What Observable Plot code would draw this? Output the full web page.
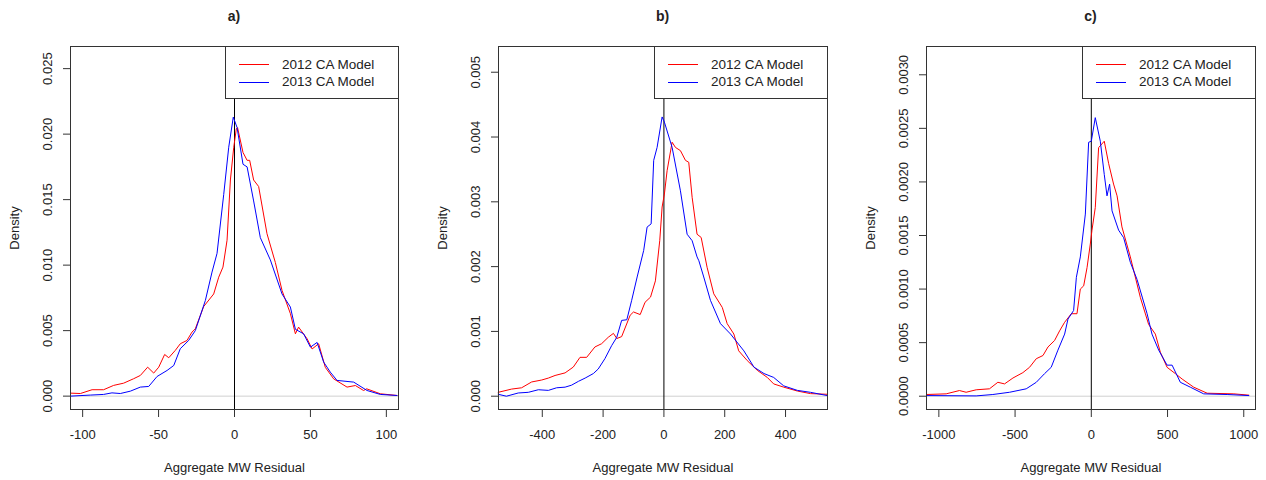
<!DOCTYPE html>
<html><head><meta charset="utf-8">
<script src="https://cdn.jsdelivr.net/npm/d3@7"></script>
<script src="https://cdn.jsdelivr.net/npm/@observablehq/plot@0.6"></script>
<style>
body{margin:0;background:#fff;font-family:"Liberation Sans",Arial,sans-serif;color:#222}
#wrap{position:relative;width:1266px;height:480px;overflow:hidden;background:#fff}
.panel{position:absolute;top:30px;width:422px;height:450px}
.title{position:absolute;top:7px;width:60px;margin-left:-30px;font-weight:bold;font-size:14px;text-align:center;line-height:18px}
.legend{position:absolute;background:#fff;border:1px solid #333;box-sizing:border-box}
.legend .row{position:absolute;left:0;height:16px;line-height:16px;font-size:13.5px;white-space:nowrap}
.legend .sw{position:absolute;left:13px;top:7.5px;width:30px;height:0;border-top:1px solid}
.legend .lab{position:absolute;left:56px;top:0}
</style></head><body><div id="wrap"></div>
<script>
const seriesNames = ["2012 CA Model", "2013 CA Model"];
const seriesColors = ["#ff0000", "#0000ff"];
const panelTitles = ["a)", "b)", "c)"];
const xLabel = "Aggregate MW Residual";
const yLabel = "Density";

// Panel a
const a2012 = [[-108,0.00023],[-101.5,0.0002],[-93.8,0.00049],[-86.2,0.00049],[-79.6,0.00082],[-73,0.00099],[-66.4,0.00133],[-62,0.00158],[-57.2,0.00221],[-53.2,0.00176],[-49.9,0.00221],[-46,0.00318],[-43.3,0.00293],[-39,0.00349],[-35.7,0.004],[-31.3,0.00425],[-28,0.00489],[-25.8,0.00514],[-20.3,0.00684],[-13.7,0.0078],[-10.4,0.00908],[-7.6,0.00985],[-4.9,0.0119],[-2.7,0.0165],[-0.5,0.019],[1.2,0.0204],[2,0.0205],[5.6,0.0186],[8.3,0.018],[10,0.018],[12.6,0.0165],[15.9,0.016],[21.4,0.0124],[26.9,0.0102],[31.3,0.00807],[36.8,0.0063],[40.1,0.00476],[42.2,0.00527],[47.8,0.00438],[51.1,0.0036],[55.4,0.004],[59.8,0.0022],[65.3,0.00132],[74.1,0.00069],[79.6,0.00081],[85,0.00043],[87,0.00056],[96,0.00018],[107,0.00005]];
const a2013 = [[-108,0],[-95,0.00008],[-86.2,0.00013],[-80.7,0.00025],[-75.2,0.0002],[-68.6,0.00038],[-62,0.00069],[-56.5,0.00074],[-51,0.0015],[-44.4,0.00196],[-40,0.00234],[-35.7,0.00362],[-30.2,0.00425],[-25.8,0.005],[-19.2,0.0073],[-14.8,0.00947],[-11.5,0.0109],[-7.1,0.0154],[-3.8,0.019],[-0.8,0.0213],[1.7,0.0205],[5.6,0.0177],[8.3,0.0175],[12.6,0.0149],[17,0.0121],[23.6,0.0104],[31.3,0.0078],[36.8,0.0068],[40.1,0.0051],[45.5,0.00476],[50,0.00374],[54.4,0.0041],[58.7,0.0026],[63.1,0.00183],[67.5,0.0012],[78.5,0.00107],[87.3,0.00043],[96,0.00013],[107,0.00005]];
const aXTicks = [-100, -50, 0, 50, 100];
const aYTicks = [0, 0.005, 0.010, 0.015, 0.020, 0.025];

// Panel b
const b2012 = [[-545,0.00006],[-501,0.00011],[-468,0.00013],[-435,0.00022],[-402,0.00025],[-380,0.00028],[-358,0.00032],[-325,0.00036],[-298,0.00045],[-276,0.0006],[-254,0.0006],[-227,0.00076],[-205,0.00081],[-183,0.00091],[-166,0.00097],[-155,0.00089],[-139,0.00092],[-111,0.00125],[-100,0.0013],[-78,0.00126],[-62,0.00145],[-44,0.00153],[-28,0.00178],[-13.7,0.0024],[-5.9,0.00292],[1.6,0.00312],[10.5,0.00348],[27,0.00392],[37.9,0.00384],[54.3,0.00379],[70.8,0.00364],[81.7,0.00361],[92.8,0.00307],[109,0.0025],[122.5,0.00245],[142,0.00199],[164,0.00158],[192,0.00137],[208,0.00112],[230,0.00096],[246,0.0007],[274,0.00055],[307,0.0004],[340,0.00029],[361,0.00019],[394,0.00014],[439,0.00008],[482,0.00004],[537,0.00003]];
const b2013 = [[-545,0.00003],[-518,0],[-479,0.00005],[-446,0.00006],[-413,0.0001],[-380,0.00009],[-353,0.00013],[-325,0.00014],[-304,0.00017],[-281,0.00023],[-259,0.00028],[-232,0.00035],[-216,0.00042],[-194,0.00058],[-172,0.00078],[-155,0.00091],[-139,0.00117],[-122,0.00118],[-106,0.00148],[-88,0.00184],[-66.5,0.00225],[-55.3,0.00261],[-42,0.00266],[-33.6,0.00364],[-22.4,0.00384],[-5.9,0.00431],[1.6,0.00423],[27,0.00384],[54.3,0.00317],[76.3,0.0025],[92.8,0.0024],[109,0.00215],[115,0.00209],[131,0.00184],[153,0.00148],[186,0.00112],[219,0.00096],[263,0.0007],[296,0.00045],[329,0.00035],[361,0.00029],[394,0.00016],[439,0.00009],[482,0.00006],[537,0.00001]];
const bXTicks = [-400, -200, 0, 200, 400];
const bYTicks = [0, 0.001, 0.002, 0.003, 0.004, 0.005];

// Panel c
const c2012 = [[-1081,0.000016],[-952,0.000022],[-865,0.000053],[-821,0.000037],[-755,0.00006],[-668,0.000069],[-613,0.00013],[-569,0.000115],[-514,0.00017],[-449,0.00022],[-405,0.00027],[-361,0.00035],[-317,0.00038],[-284,0.00046],[-241,0.00052],[-208,0.00061],[-175,0.00069],[-131,0.00077],[-94,0.00077],[-72,0.001],[-50,0.00103],[-28,0.0012],[-6.6,0.00142],[4.4,0.00155],[26,0.00176],[48,0.00232],[85,0.00238],[114,0.00217],[146,0.00198],[169,0.00187],[201,0.00158],[256,0.0013],[322,0.00092],[376,0.00067],[420,0.00058],[453,0.00041],[497,0.00027],[552,0.00021],[596,0.00016],[672,0.000084],[760,0.000028],[935,0.000022],[1033,0.00001]];
const c2013 = [[-1081,0.000006],[-755,0.000003],[-646,0.000016],[-536,0.000037],[-427,0.000069],[-361,0.00013],[-307,0.00021],[-263,0.00027],[-219,0.00043],[-175,0.00058],[-153,0.00072],[-116,0.0008],[-98,0.00111],[-72,0.0013],[-39,0.0017],[-17.5,0.00237],[0,0.00238],[26,0.0026],[59,0.00238],[85,0.00207],[103,0.00187],[120,0.00198],[136,0.00173],[179,0.00155],[212,0.00148],[256,0.00125],[300,0.00109],[366,0.00077],[398,0.00058],[442,0.00043],[497,0.00029],[530,0.00029],[584,0.00013],[650,0.000084],[737,0.000022],[891,0.000016],[1033,0.000006]];
const cXTicks = [-1000, -500, 0, 500, 1000];
const cYTicks = [0, 0.0005, 0.0010, 0.0015, 0.0020, 0.0025, 0.0030];

const panels = [
  {left: 0, ml: 70, mr: 24, xd: [-108, 108], yd: [-0.00102, 0.02669], s: [a2012, a2013], xt: aXTicks, yt: aYTicks, fmt: d3.format(".3f")},
  {left: 422, ml: 76, mr: 17, xd: [-544, 538], yd: [-0.000205, 0.005397], s: [b2012, b2013], xt: bXTicks, yt: bYTicks, fmt: d3.format(".3f")},
  {left: 844, ml: 82, mr: 11, xd: [-1081, 1077], yd: [-0.000124, 0.003264], s: [c2012, c2013], xt: cXTicks, yt: cYTicks, fmt: d3.format(".4f")}
];

const wrap = document.getElementById("wrap");
const W = 422, H = 450, MT = 16, MB = 71;

panels.forEach((p, i) => {
  const div = document.createElement("div");
  div.className = "panel";
  div.style.left = p.left + "px";
  const marks = [
    Plot.ruleY([0], {stroke: "#d0d0d0"}),
    Plot.ruleX([0], {stroke: "#000"}),
  ];
  p.s.forEach((ser, k) => {
    marks.push(Plot.line(ser, {x: d => d[0], y: d => d[1], stroke: seriesColors[k], strokeWidth: 1}));
  });
  marks.push(
    Plot.frame({stroke: "#333"}),
    Plot.axisX({ticks: p.xt, tickSize: 8, tickFormat: () => "", label: null, stroke: "#333"}),
    Plot.axisY({ticks: p.yt, tickSize: 7, tickFormat: () => "", label: null, stroke: "#333"}),
    Plot.text(p.xt, {x: d => d, text: d => String(d), frameAnchor: "bottom", dy: 25, lineAnchor: "middle", fill: "#222"}),
    Plot.text(p.yt, {y: d => d, text: d => p.fmt(d), frameAnchor: "left", dx: -23, rotate: -90, textAnchor: "middle", lineAnchor: "middle", fill: "#222"}),
    Plot.text([xLabel], {text: d => d, frameAnchor: "bottom", dy: 58, lineAnchor: "middle", fill: "#222"}),
    Plot.text([yLabel], {text: d => d, frameAnchor: "left", dx: -56, rotate: -90, lineAnchor: "middle", textAnchor: "middle", fill: "#222"})
  );
  const svg = Plot.plot({
    width: W, height: H,
    marginLeft: p.ml, marginRight: p.mr, marginTop: MT, marginBottom: MB,
    x: {domain: p.xd},
    y: {domain: p.yd},
    style: {fontFamily: "'Liberation Sans', Arial, sans-serif", fontSize: "13px", background: "white", overflow: "visible"},
    marks
  });
  div.appendChild(svg);
  wrap.appendChild(div);

  const frameL = p.left + p.ml, frameR = p.left + W - p.mr;
  const t = document.createElement("div");
  t.className = "title";
  t.textContent = panelTitles[i];
  t.style.left = ((frameL + frameR) / 2) + "px";
  wrap.appendChild(t);

  const lg = document.createElement("div");
  lg.className = "legend";
  const lw = 174;
  lg.style.left = (frameR - lw + 1) + "px";
  lg.style.top = (30 + MT) + "px";
  lg.style.width = lw + "px";
  lg.style.height = "53px";
  seriesNames.forEach((n, k) => {
    const r = document.createElement("div");
    r.className = "row";
    r.style.top = (k === 0 ? 9.5 : 27) + "px";
    r.innerHTML = `<span class="sw" style="border-color:${seriesColors[k]}"></span><span class="lab">${n}</span>`;
    lg.appendChild(r);
  });
  wrap.appendChild(lg);
});
</script>
</body></html>
